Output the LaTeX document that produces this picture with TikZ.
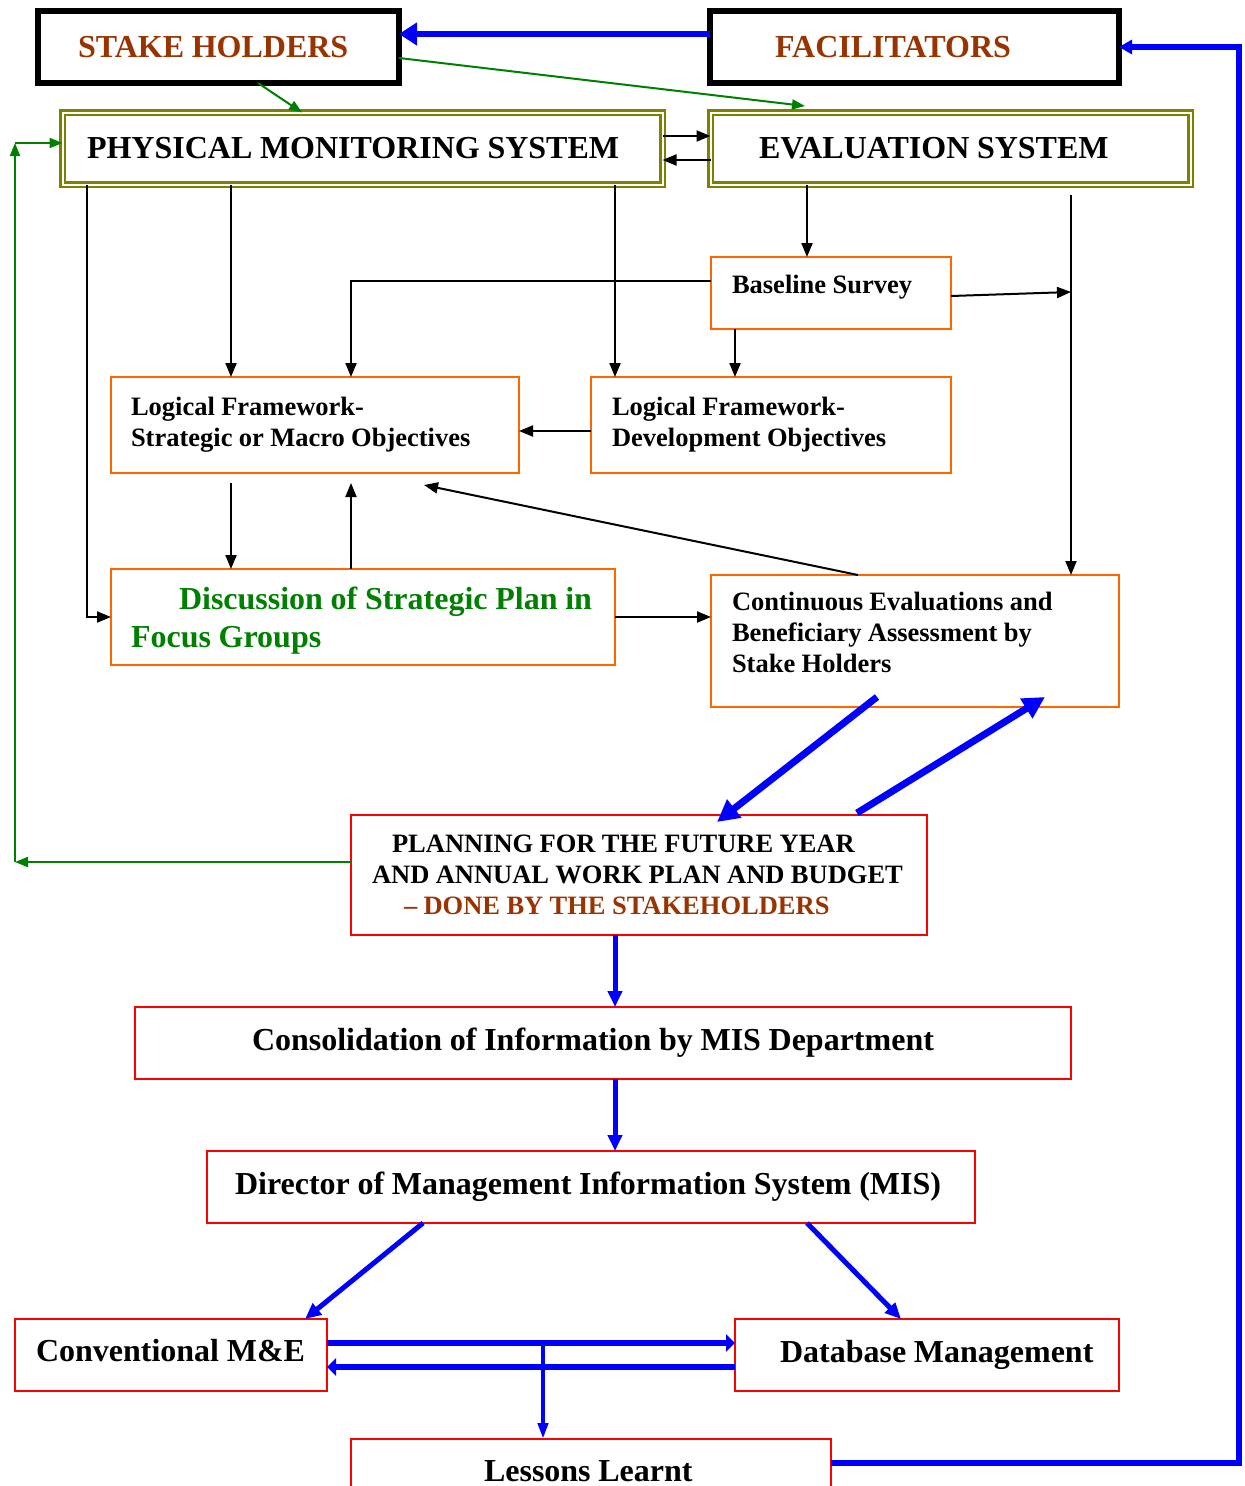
\documentclass[tikz,border=0pt]{standalone}
\usepackage{fontspec}
\setmainfont{Liberation Serif}
\usetikzlibrary{arrows.meta,calc}
\definecolor{brn}{HTML}{993300}
\definecolor{org}{HTML}{FF6600}
\definecolor{olv}{HTML}{808000}
\definecolor{grn}{HTML}{008000}
\definecolor{blu}{HTML}{0000FF}
\definecolor{rd}{HTML}{FF0000}
\newcommand\fontbig{\fontsize{32pt}{38pt}\selectfont\bfseries}
\newcommand\fontmed{\fontsize{26.5pt}{31pt}\selectfont\bfseries}
\begin{document}
\begin{tikzpicture}[x=1pt,y=-1pt,
  lbl/.style={inner ysep=0pt, outer sep=0pt, anchor=north west, align=left,
    execute at begin node={\spaceskip=0.24em\relax}},
  blkbox/.style={lbl, draw=black, line width=6pt, font=\fontbig, text=brn},
  olvbox/.style={lbl, draw=olv, line width=2.5pt, double=white, double distance=2pt, font=\fontbig},
  orgbox/.style={lbl, draw=org, line width=2pt, font=\fontmed},
  redbox/.style={lbl, draw=rd, line width=2pt, font=\fontbig},
  ablk/.style={draw=black, line width=2pt, -{Triangle[length=14pt,width=11pt]}},
  agrn/.style={draw=grn, line width=2pt, -{Triangle[length=13pt,width=10pt]}},
  ablubig/.style={draw=blu, line width=6pt, -{Triangle[length=18pt,width=22pt]}},
  ablud/.style={draw=blu, line width=7pt, -{Triangle[length=22pt,width=22pt]}},
  ablum/.style={draw=blu, line width=5pt, -{Triangle[length=16pt,width=14pt]}},
  ablus/.style={draw=blu, line width=6pt, -{Triangle[length=9pt,width=17pt]}},
  ablut/.style={draw=blu, line width=4pt, -{Triangle[length=16pt,width=10pt]}},
  bluline/.style={draw=blu, line width=6pt, line join=miter, -{Triangle[length=13pt,width=14pt]}}
]
\useasboundingbox (0,0) rectangle (1245,1486);
\clip (0,0) rectangle (1245,1486);

% boxes
\node[blkbox, minimum width=361pt, minimum height=72pt, text width=281pt, inner xsep=40pt] (stake) at (38,11) {\mbox{STAKE HOLDERS}};
\node[blkbox, minimum width=409pt, minimum height=72pt, text width=279pt, inner xsep=65pt] (facil) at (710,11) {\mbox{FACILITATORS}};
\node[olvbox, minimum width=600pt, minimum height=72pt, text width=551pt, inner xsep=24.5pt] (pms) at (62.5,112.5) {\mbox{PHYSICAL MONITORING SYSTEM}};
\node[olvbox, minimum width=480pt, minimum height=72pt, text width=383pt, inner xsep=48.5pt] (es) at (710.5,112.5) {\mbox{EVALUATION SYSTEM}};
\node[orgbox, minimum width=240pt, minimum height=72pt, text width=198pt, inner xsep=21pt, text depth=18pt] (bs) at (711,257) {\mbox{Baseline Survey}};
\node[orgbox, minimum width=408pt, minimum height=96pt, text width=368pt, inner xsep=20pt] (lfs) at (111,377) {\mbox{Logical Framework-}\\\mbox{Strategic or Macro Objectives}};
\node[orgbox, minimum width=360pt, minimum height=96pt, text width=318pt, inner xsep=21pt] (lfd) at (591,377) {\mbox{Logical Framework-}\\\mbox{Development Objectives}};
\node[orgbox, font=\fontbig, text=grn, minimum width=504pt, minimum height=96pt, text width=464pt, inner xsep=20pt, text depth=37pt] (disc) at (111,569) {\mbox{\hspace*{48pt}Discussion of Strategic Plan in}\\\mbox{Focus Groups}};
\node[orgbox, minimum width=408pt, minimum height=132pt, text width=366pt, inner xsep=21pt, text depth=79pt] (ce) at (711,575) {\mbox{Continuous Evaluations and}\\\mbox{Beneficiary Assessment by}\\\mbox{Stake Holders}};
\node[redbox, font=\fontmed, minimum width=576pt, minimum height=120pt, text width=534pt, inner xsep=21pt] (plan) at (351,815) {\mbox{\hspace*{20pt}PLANNING FOR THE FUTURE YEAR}\\\mbox{AND ANNUAL WORK PLAN AND BUDGET}\\\mbox{\hspace*{32pt}\textcolor{brn}{– DONE BY THE STAKEHOLDERS}}};
\node[redbox, minimum width=936pt, minimum height=72pt, text width=702pt, inner xsep=117pt] (cons) at (135,1007) {\mbox{Consolidation of Information by MIS Department}};
\node[redbox, minimum width=768pt, minimum height=72pt, text width=712pt, inner xsep=28pt] (dir) at (207,1151) {\mbox{Director of Management Information System (MIS)}};
\node[redbox, minimum width=312pt, minimum height=72pt, text width=270pt, inner xsep=21pt, text depth=10pt] (conv) at (15,1319) {\mbox{Conventional M\&E}};
\node[redbox, minimum width=384pt, minimum height=72pt, text width=294pt, inner xsep=45pt] (db) at (735,1319) {\mbox{Database Management}};
\node[redbox, minimum width=480pt, minimum height=64pt, text width=214pt, inner xsep=133pt] (lessons) at (351,1439) {\mbox{Lessons Learnt}};

% coordinates
\coordinate (esin) at (805,106);
\coordinate (j1) at (1071,292);
\coordinate (t1) at (424,485);
\coordinate (j2) at (543,1343);
\coordinate (g1) at (15,862);
\coordinate (g2) at (15,143);

% top connectors
\draw[ablubig] (facil.west |- 0,34) -- (stake.east |- 0,34);
\draw[agrn] (stake.south -| 258,0) -- (pms.north -| 302,0);
\draw[agrn] (stake.east |- 0,58) -- (esin);
\draw[ablk] (pms.east |- 0,136) -- (es.west |- 0,136);
\draw[ablk] (es.west |- 0,160) -- (pms.east |- 0,160);

% black connectors
\draw[ablk] (pms.south -| 231,0) -- (lfs.north -| 231,0);
\draw[ablk] (pms.south -| 615,0) -- (lfd.north -| 615,0);
\draw[ablk] (pms.south -| 87,0) |- (disc.west);
\draw[ablk] (es.south -| 807,0) -- (bs.north -| 807,0);
\draw[ablk, shorten <=10pt] (es.south -| 1071,0) -- (ce.north -| 1071,0);
\draw[ablk] (bs.west |- 0,281) -| (lfs.north -| 351,0);
\draw[ablk] (bs.east |- 0,296) -- (j1);
\draw[ablk] (bs.south -| 735,0) -- (lfd.north -| 735,0);
\draw[ablk] (lfd.west |- 0,431) -- (lfs.east |- 0,431);
\draw[ablk, shorten <=10pt] (lfs.south -| 231,0) -- (disc.north -| 231,0);
\draw[ablk, shorten >=10pt] (disc.north -| 351,0) -- (lfs.south -| 351,0);
\draw[ablk] (ce.north -| 858,0) -- (t1);
\draw[ablk] (disc.east) -- (ce.west |- disc.east);

% blue connectors
\draw[ablud] ($(ce.south -| 877,0)+(0,-10)$) -- ($(plan.north -| 717,0)+(0,7)$);
\draw[ablud] ($(plan.north -| 857,0)+(0,-2)$) -- ($(ce.south -| 1045,0)+(0,-10)$);
\draw[ablum] (plan.south -| 615,0) -- (cons.north -| 615,0);
\draw[ablum] (cons.south -| 615,0) -- (dir.north -| 615,0);
\draw[ablum] (dir.south -| 423,0) -- (conv.north -| 305,0);
\draw[ablum] (dir.south -| 807,0) -- (db.north -| 901,0);
\draw[ablus] (conv.east |- 0,1343) -- (db.west |- 0,1343);
\draw[ablus] (db.west |- 0,1367) -- (conv.east |- 0,1367);
\draw[ablut] (j2) -- (lessons.north -| j2);
\draw[bluline] (lessons.east |- 0,1463) -| (facil.east -| 1239,0) -- (facil.east);

% green return
\draw[agrn] (plan.west |- g1) -- (g1);
\draw[agrn] (g1) -- (g2);
\draw[agrn] (g2) -- (pms.west |- g2);
\end{tikzpicture}
\end{document}
